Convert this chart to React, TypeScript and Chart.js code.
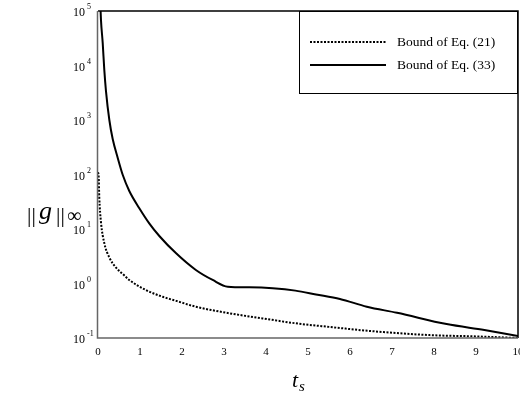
import React, { useEffect, useRef } from "react";
import { Chart, registerables } from "chart.js";

Chart.register(...registerables);

const seriesLabels = ["Bound of Eq. (21)", "Bound of Eq. (33)"];

const tDotted = [0, 0.016, 0.03, 0.07, 0.15, 0.27, 0.43, 0.59, 0.745, 1.14, 1.54, 1.86, 2.33, 3.13, 3.92, 4.71, 5.5, 6.5, 7.9, 9, 10];
const vDotted = [110, 91, 39, 13.5, 5.5, 3.0, 1.95, 1.49, 1.16, 0.76, 0.57, 0.48, 0.375, 0.284, 0.229, 0.186, 0.16, 0.134, 0.113, 0.107, 0.1];

const tSolid = [0.06, 0.071, 0.112, 0.15, 0.19, 0.27, 0.35, 0.47, 0.59, 0.745, 0.98, 1.22, 1.46, 1.86, 2.33, 2.73, 3.09, 3.6, 4.16, 4.7, 5.19, 5.76, 6.4, 7.12, 8.3, 9.2, 10];
const vSolid = [1.1e5, 6.8e4, 2.6e4, 8.3e3, 3.4e3, 1e3, 448, 201, 97.7, 49.8, 24.3, 12.7, 7.45, 3.58, 1.77, 1.16, 0.873, 0.85, 0.817, 0.74, 0.63, 0.52, 0.375, 0.29, 0.18, 0.14, 0.109];

const xTicks = [0, 1, 2, 3, 4, 5, 6, 7, 8, 9, 10];
const yExponents = [-1, 0, 1, 2, 3, 4, 5];

const SERIF = '"Liberation Serif", "Times New Roman", serif';

const decorPlugin = {
  id: "decor",
  afterDraw(chart: any) {
    const ctx = chart.ctx;
    const { left, right, top, bottom } = chart.chartArea;
    const xs = chart.scales.x;
    const ys = chart.scales.y;
    ctx.save();
    // frame
    ctx.lineWidth = 1.5;
    ctx.strokeStyle = "#000";
    ctx.beginPath();
    ctx.moveTo(left, top);
    ctx.lineTo(right, top);
    ctx.lineTo(right, bottom);
    ctx.stroke();
    ctx.strokeStyle = "#666";
    ctx.beginPath();
    ctx.moveTo(left - 0.5, top);
    ctx.lineTo(left - 0.5, bottom);
    ctx.lineTo(right, bottom);
    ctx.stroke();

    // x tick labels
    ctx.fillStyle = "#000";
    ctx.font = `11px ${SERIF}`;
    ctx.textAlign = "center";
    ctx.textBaseline = "middle";
    xTicks.forEach((v) => {
      ctx.fillText(String(v), xs.getPixelForValue(v), bottom + 14);
    });

    // y tick labels
    yExponents.forEach((e) => {
      const py = ys.getPixelForValue(Math.pow(10, e));
      ctx.font = `12px ${SERIF}`;
      ctx.textAlign = "left";
      ctx.textBaseline = "middle";
      ctx.fillText("10", 73, py + 2);
      ctx.font = `8px ${SERIF}`;
      ctx.fillText(String(e), 87, py - 4);
    });

    // y title: ||g||_inf
    ctx.textBaseline = "alphabetic";
    ctx.textAlign = "left";
    ctx.font = `22px ${SERIF}`;
    ctx.fillText("||", 27, 222);
    ctx.font = `italic 26px ${SERIF}`;
    ctx.fillText("g", 39, 219);
    ctx.font = `22px ${SERIF}`;
    ctx.fillText("||", 56, 222);
    ctx.font = `20px ${SERIF}`;
    ctx.fillText("\u221E", 67, 222);

    // x title
    ctx.font = `italic 22px ${SERIF}`;
    ctx.fillText("t", 292, 387);
    const tw = ctx.measureText("t").width;
    ctx.font = `italic 15px ${SERIF}`;
    ctx.fillText("s", 292 + tw + 1, 391);

    // legend
    const lx = 299, ly = top, lw = 218, lh = 82;
    ctx.fillStyle = "#fff";
    ctx.fillRect(lx, ly, lw, lh);
    ctx.strokeStyle = "#000";
    ctx.lineWidth = 1;
    ctx.strokeRect(lx + 0.5, ly + 0.5, lw, lh);
    const rows = [42, 65];
    chart.data.datasets.forEach((ds: any, i: number) => {
      ctx.strokeStyle = "#000";
      ctx.lineWidth = ds.borderWidth;
      ctx.setLineDash(ds.borderDash || []);
      ctx.beginPath();
      ctx.moveTo(310, rows[i]);
      ctx.lineTo(386, rows[i]);
      ctx.stroke();
      ctx.setLineDash([]);
      ctx.fillStyle = "#000";
      ctx.font = `13.5px ${SERIF}`;
      ctx.textBaseline = "middle";
      ctx.textAlign = "left";
      ctx.fillText(ds.label, 397, rows[i]);
    });
    ctx.restore();
  },
};

export default function App() {
  const ref = useRef<HTMLCanvasElement>(null);
  useEffect(() => {
    document.body.style.margin = "0";
    const chart = new Chart(ref.current!, {
      type: "line",
      data: {
        datasets: [
          {
            label: seriesLabels[0],
            data: tDotted.map((t, i) => ({ x: t, y: vDotted[i] })),
            borderColor: "#000",
            borderWidth: 2,
            borderDash: [2, 1.5],
            pointRadius: 0,
            cubicInterpolationMode: "monotone",
            fill: false,
          },
          {
            label: seriesLabels[1],
            data: tSolid.map((t, i) => ({ x: t, y: vSolid[i] })),
            borderColor: "#000",
            borderWidth: 2,
            pointRadius: 0,
            cubicInterpolationMode: "monotone",
            fill: false,
          },
        ],
      },
      options: {
        responsive: false,
        animation: false,
        devicePixelRatio: 1,
        layout: { padding: { top: 11, right: 2, left: 0, bottom: 0 } },
        plugins: { legend: { display: false }, tooltip: { enabled: false } },
        scales: {
          x: {
            type: "linear",
            min: 0,
            max: 10,
            grid: { display: false },
            border: { display: false },
            ticks: { display: false },
            afterFit: (s: any) => {
              s.height = 64;
            },
          },
          y: {
            type: "logarithmic",
            min: 0.1,
            max: 1e5,
            grid: { display: false },
            border: { display: false },
            ticks: { display: false },
            afterFit: (s: any) => {
              s.width = 98;
            },
          },
        },
      },
      plugins: [decorPlugin],
    } as any);
    return () => chart.destroy();
  }, []);
  return <canvas ref={ref} width={520} height={402} style={{ display: "block" }} />;
}
